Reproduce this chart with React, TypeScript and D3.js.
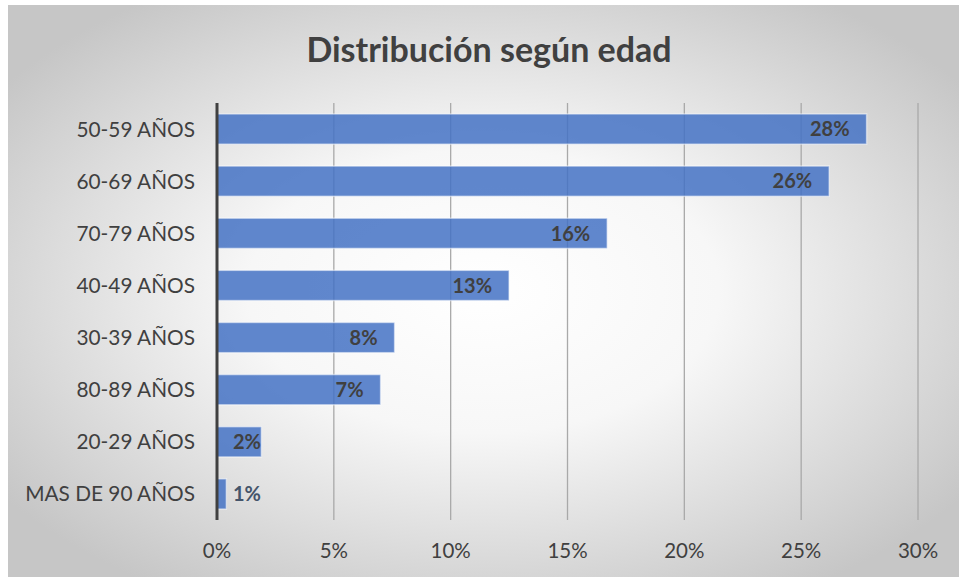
import React from 'react';
import * as d3 from 'd3';

const categories = ['50-59 AÑOS', '60-69 AÑOS', '70-79 AÑOS', '40-49 AÑOS', '30-39 AÑOS', '80-89 AÑOS', '20-29 AÑOS', 'MAS DE 90 AÑOS'];
const values = [27.8, 26.2, 16.7, 12.5, 7.6, 7.0, 1.9, 0.4];
const valueLabels = ['28%', '26%', '16%', '13%', '8%', '7%', '2%', '1%'];
const ticks = [0, 5, 10, 15, 20, 25, 30];

const W = 959;
const H = 580;
const margin = { top: 103, right: 41, bottom: 60, left: 217 };
const font = 'Lato, "Open Sans", sans-serif';

export default function App() {
  const x = d3.scaleLinear().domain([0, 30]).range([margin.left, W - margin.right]);
  const y = d3.scaleBand().domain(categories).range([margin.top, H - margin.bottom]).paddingInner(0.42).paddingOuter(0.21);

  return (
    <svg width={W} height={H} style={{ position: 'absolute', left: 0, top: 0 }}>
      <defs>
        <radialGradient id="bg" cx="0.5" cy="0.5" r="0.62">
          <stop offset="0" stopColor="#ffffff" />
          <stop offset="0.4" stopColor="#f7f7f7" />
          <stop offset="1" stopColor="#c6c6c6" />
        </radialGradient>
      </defs>
      <rect x={8} y={5} width={W - 8} height={572} fill="url(#bg)" />
      <text x={489} y={50} dy="0.35em" textAnchor="middle" fontFamily={font} fontWeight="bold" fontSize={34} fill="#404040">
        Distribución según edad
      </text>
      {ticks.slice(1).map(t => (
        <line key={t} x1={x(t)} x2={x(t)} y1={margin.top} y2={H - margin.bottom} stroke="#a9a9a9" strokeWidth={1.3} />
      ))}
      {categories.map((c, i) => {
        const end = x(values[i]) - 17;
        const inside = end > x(0) + 50;
        return (
          <g key={c}>
            <rect x={x(0)} y={y(c)} width={x(values[i]) - x(0)} height={y.bandwidth()} fill="#4472c4" fillOpacity={0.85} stroke="#ffffff" strokeOpacity={0.5} strokeWidth={1.5} />
            <text x={inside ? end : x(0) + 16} y={y(c)! + y.bandwidth() / 2} dy="0.36em" textAnchor={inside ? 'end' : 'start'} fontFamily={font} fontWeight="bold" fontSize={20} fill={values[i] < 1 ? '#44546a' : '#404040'}>
              {valueLabels[i]}
            </text>
            <text x={195} y={y(c)! + y.bandwidth() / 2} dy="0.36em" textAnchor="end" fontFamily={font} fontSize={20.8} fill="#404040">
              {c}
            </text>
          </g>
        );
      })}
      <line x1={x(0)} x2={x(0)} y1={margin.top} y2={H - margin.bottom} stroke="#404040" strokeWidth={3} />
      {ticks.map(t => (
        <text key={t} x={x(t)} y={551} dy="0.36em" textAnchor="middle" fontFamily={font} fontSize={20.5} fill="#404040">
          {t}%
        </text>
      ))}
    </svg>
  );
}
